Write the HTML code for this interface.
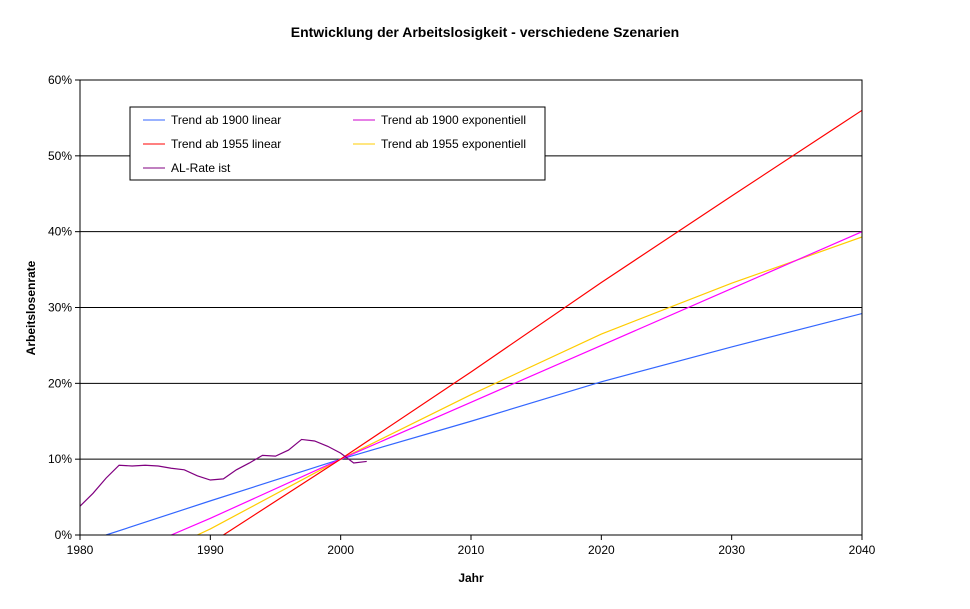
<!DOCTYPE html>
<html><head><meta charset="utf-8"><style>
body{margin:0;background:#fff;font-family:"Liberation Sans",Arial,sans-serif}
svg text{font-family:"Liberation Sans",Arial,sans-serif}
</style></head><body>
<svg id="c" width="970" height="604">
<text x="485" y="37" text-anchor="middle" font-size="14" font-weight="bold">Entwicklung der Arbeitslosigkeit - verschiedene Szenarien</text>
<text x="471" y="582" text-anchor="middle" font-size="12" font-weight="bold">Jahr</text>
<text x="35" y="308" text-anchor="middle" font-size="12" font-weight="bold" transform="rotate(-90 35 308)">Arbeitslosenrate</text>
<g id="grid"></g><g id="series"></g><g id="axes"></g>
<g>
<rect x="130" y="107" width="415" height="73" fill="#fff" stroke="#000"/>
<g><line x1="143" y1="120" x2="165" y2="120" stroke="#3366ff"/><text x="171" y="124" font-size="12">Trend ab 1900 linear</text></g>
<g><line x1="353" y1="120" x2="375" y2="120" stroke="#cc00cc"/><text x="381" y="124" font-size="12">Trend ab 1900 exponentiell</text></g>
<g><line x1="143" y1="144" x2="165" y2="144" stroke="#ff0000"/><text x="171" y="148" font-size="12">Trend ab 1955 linear</text></g>
<g><line x1="353" y1="144" x2="375" y2="144" stroke="#ffcc00"/><text x="381" y="148" font-size="12">Trend ab 1955 exponentiell</text></g>
<g><line x1="143" y1="168" x2="165" y2="168" stroke="#800080"/><text x="171" y="172" font-size="12">AL-Rate ist</text></g>
</g>
</svg>
<script>
const xTicks=[1980,1990,2000,2010,2020,2030,2040];
const yTicks=[0,10,20,30,40,50,60];
const blueYears=[1982,1990,2000,2010,2020,2030,2040];
const trend1900Lin=[0,4.5,10,15,20.2,24.8,29.2];
const magYears=[1987,1990,2000,2010,2020,2030,2040];
const trend1900Exp=[0,2.2,10,17.5,25,32.5,40];
const redYears=[1991,2000,2010,2020,2030,2040];
const trend1955Lin=[0,10,21.5,33.3,44.7,56];
const yelYears=[1989,1990,2000,2010,2020,2030,2040];
const trend1955Exp=[0,0.8,10,18.5,26.5,33.2,39.3];
const alYears=[1980,1981,1982,1983,1984,1985,1986,1987,1988,1989,1990,1991,1992,1993,1994,1995,1996,1997,1998,1999,2000,2001,2002];
const alRate=[3.8,5.5,7.5,9.2,9.1,9.2,9.1,8.8,8.6,7.8,7.25,7.4,8.6,9.5,10.5,10.4,11.2,12.6,12.4,11.7,10.8,9.5,9.7];
const X0=80,X1=862,Y0=535,Y1=80;
const xs=v=>X0+(v-1980)/60*(X1-X0);
const ys=v=>Y0-(v/60)*(Y0-Y1);
const NS="http://www.w3.org/2000/svg";
function mk(t,a,p){const e=document.createElementNS(NS,t);for(const k in a)e.setAttribute(k,a[k]);p.appendChild(e);return e;}
const grid=document.getElementById('grid'),axes=document.getElementById('axes'),ser=document.getElementById('series');
yTicks.forEach(t=>{
 const y=ys(t);
 const l=mk('line',{x1:X0,x2:X1,y1:y,y2:y,stroke:'#000'},grid);
 
 
 const tk=mk('line',{x1:X0-5,x2:X0,y1:y,y2:y,stroke:'#000'},axes);
 
 
 const tx=mk('text',{x:X0-8,y:y+4,'text-anchor':'end','font-size':12},axes);
 tx.textContent=t+'%';
 
 
});
xTicks.forEach(t=>{
 const x=xs(t);
 const tk=mk('line',{x1:x,x2:x,y1:Y0,y2:Y0+5,stroke:'#000'},axes);
 
 
 const tx=mk('text',{x:x,y:Y0+19,'text-anchor':'middle','font-size':12},axes);
 tx.textContent=t;
 
 
});
const fr=mk('rect',{x:X0,y:Y1,width:X1-X0,height:Y0-Y1,fill:'none',stroke:'#000'},axes);


const cp=mk('clipPath',{id:'clip'},ser);mk('rect',{x:X0,y:Y1,width:X1-X0,height:Y0-Y1},cp);
function line(xv,yv,color,name){
 const p=mk('polyline',{points:xv.map((x,i)=>xs(x)+','+ys(yv[i])).join(' '),fill:'none',stroke:color,'stroke-width':1.2,'clip-path':'url(#clip)'},ser);
 
 
}
line(blueYears,trend1900Lin,'#3366ff','trend-1900-linear-line');
line(yelYears,trend1955Exp,'#ffcc00','trend-1955-exponential-line');
line(magYears,trend1900Exp,'#ff00ff','trend-1900-exponential-line');
line(redYears,trend1955Lin,'#ff0000','trend-1955-linear-line');
line(alYears,alRate,'#800080','al-rate-line');
</script>
</body></html>
